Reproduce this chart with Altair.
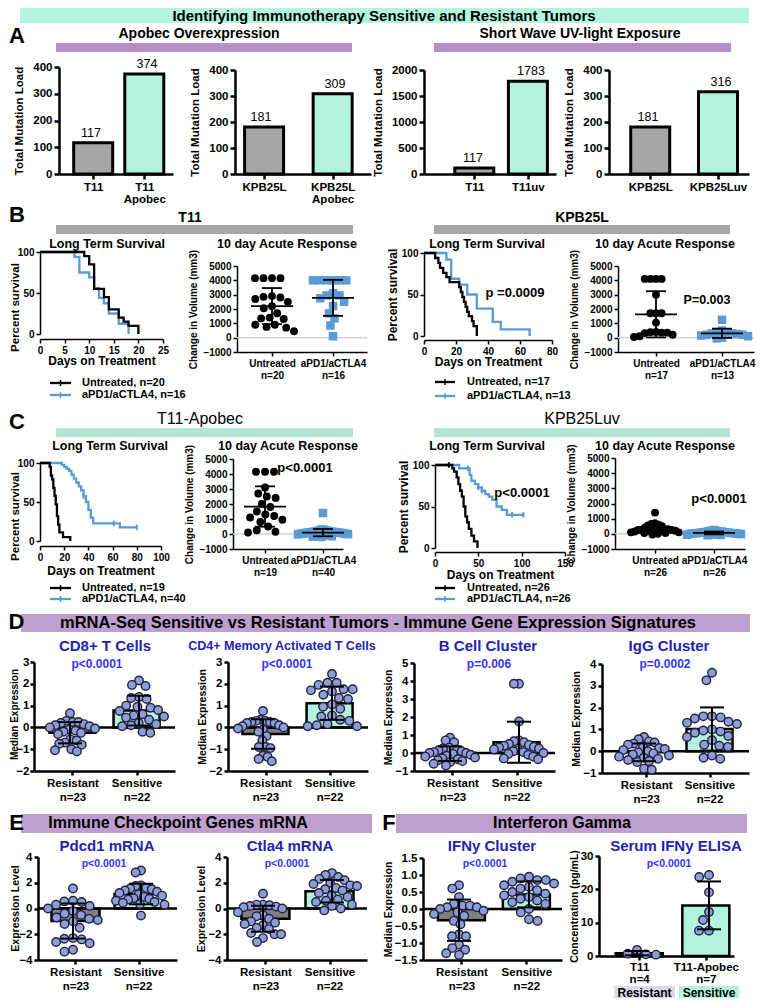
import math
import altair as alt
import pandas as pd

W, H = 748, 990
FONT = "Liberation Sans"
BLUE = "#5b9bd5"
MINT = "#b3f2dd"
MINT_TOP = "#b3f5df"
MINT_C = "#b2e5d2"
GRAY_A = "#a6a6a6"
GRAY_D = "#808080"
PURPLE_A = "#b590c8"
PURPLE_D = "#be9fcf"
NAVY = "#2323ad"
PBLUE = "#3535f2"
DOT_FILL = "#8d9dd8"
DOT_STROKE = "#23233f"

# ---------------- data ----------------
# A: total mutation load
a1_labels = ["T11", "T11|Apobec"];       a1_vals = [117, 374]
a2_labels = ["KPB25L", "KPB25L|Apobec"]; a2_vals = [181, 309]
a3_labels = ["T11", "T11uv"];            a3_vals = [117, 1783]
a4_labels = ["KPB25L", "KPB25Luv"];      a4_vals = [181, 316]

# Kaplan-Meier curves (days, percent survival)
t11_untr_d = [0, 9, 10, 11, 13, 14, 16, 17, 18, 20]
t11_untr_s = [100, 95, 85, 55, 45, 30, 20, 15, 10, 0]
t11_trt_d = [0, 7, 8, 10, 11, 12, 13, 14, 16, 18]
t11_trt_s = [100, 94, 75, 69, 56, 44, 37.5, 25, 12.5, 0]

kpb_untr_d = [0, 7, 9, 10, 12, 14, 16, 22, 23, 24, 25, 26, 27, 28, 30, 31, 33]
kpb_untr_s = [100, 94, 88, 82, 76, 71, 65, 59, 53, 47, 41, 35, 29, 24, 18, 12, 0]
kpb_trt_d = [0, 14, 17, 22, 27, 33, 43, 48, 66]
kpb_trt_s = [100, 92, 69, 62, 50, 33, 17, 8, 0]

t11a_untr_d = [0, 8, 9, 10, 11, 12, 13, 14, 15, 16, 19, 25]
t11a_untr_s = [100, 95, 84, 79, 68, 58, 47, 32, 21, 11, 5, 0]
t11a_trt_d = [0, 18, 20, 22, 24, 26, 28, 30, 32, 34, 36, 38, 40, 42, 44, 66, 80]
t11a_trt_s = [100, 97.5, 95, 92.5, 90, 85, 80, 75, 70, 65, 57.5, 50, 40, 30, 22.5, 17.5, 17.5]
t11a_cens_d = [36, 61, 80]
t11a_cens_s = [57.5, 22.5, 17.5]

kpbuv_untr_d = [0, 20, 22, 25, 27, 29, 31, 33, 35, 37, 39, 42, 45, 49]
kpbuv_untr_s = [100, 96, 92, 85, 77, 69, 62, 50, 38, 31, 23, 15, 8, 0]
kpbuv_trt_d = [0, 28, 40, 42, 46, 50, 54, 58, 62, 66, 71, 77, 83, 102]
kpbuv_trt_s = [100, 96, 88, 81, 77, 73, 69, 65, 62, 58, 50, 46, 40, 40]
kpbuv_cens_untr_d = [16]
kpbuv_cens_untr_s = [100]
kpbuv_cens_trt_d = [38, 50, 54, 89, 102]
kpbuv_cens_trt_s = [96, 73, 69, 40, 40]

# 10 day acute response (change in volume, mm3)
t11_untr_vol = [4150, 4150, 4150, 4150, 2900, 2850, 2800, 2700, 2500, 2200, 2050, 1700, 1400, 1350, 1300, 900, 900, 750, 700, 450]
t11_trt_vol = [4000, 4000, 4000, 4000, 4000, 4000, 3100, 2950, 2950, 2750, 2500, 2200, 1700, 1350, 850, 100]
kpb_untr_vol = [4100, 4100, 4100, 4100, 3000, 1700, 1700, 1700, 1050, 400, 380, 350, 350, 320, 200, 100, 50]
kpb_trt_vol = [1250, 500, 400, 350, 300, 300, 250, 200, 200, 150, 100, 0, -50]
t11a_untr_vol = [4150, 4150, 4150, 3100, 2700, 2500, 2400, 2000, 1800, 1500, 1300, 1200, 1100, 950, 800, 500, 250, 150, 100]
t11a_trt_vol = [1400, 300, 280, 250, 230, 200, 200, 180, 170, 150, 150, 140, 130, 120, 110, 100, 100, 90, 80, 70,
                60, 50, 50, 40, 30, 20, 10, 0, 0, -10, -20, -30, -50, -60, -80, -100, -120, -150, -180, -200]
kpbuv_untr_vol = [1400, 700, 650, 600, 550, 500, 450, 400, 350, 300, 300, 300, 250, 250, 250, 200, 200, 200, 150, 150,
                  100, 100, 50, 50, 0, -50]
kpbuv_trt_vol = [250, 200, 200, 180, 150, 150, 120, 100, 100, 80, 80, 60, 50, 50, 40, 30, 20, 10, 0, 0,
                 -20, -40, -50, -60, -80, -100]

# D/E/F expression
cd8_res = [0.65, 0.3, 0.25, 0.25, 0.2, 0.15, 0.1, 0.05, 0.0, -0.05, -0.1, -0.15, -0.2, -0.25, -0.3, -0.55, -0.6, -0.7, -0.75, -0.8, -1.0, -1.05, -1.1]
cd8_sen = [2.15, 1.95, 1.9, 1.4, 1.35, 1.3, 1.0, 0.95, 0.9, 0.8, 0.75, 0.6, 0.55, 0.5, 0.45, 0.35, 0.2, 0.15, 0.1, 0.05, -0.2, -0.25]
cd4_res = [0.75, 0.35, 0.3, 0.3, 0.25, 0.25, 0.2, 0.2, 0.1, 0.05, 0.0, -0.05, -0.1, -0.2, -0.4, -0.6, -0.9, -0.9, -0.95, -1.3, -1.35, -1.45, -1.55]
cd4_sen = [2.45, 2.05, 2.05, 1.95, 1.75, 1.75, 1.7, 1.65, 1.5, 1.35, 1.3, 1.05, 0.95, 0.85, 0.55, 0.5, 0.35, 0.3, 0.15, 0.1, 0.05, 0.05]
bcell_res = [0.85, 0.7, 0.6, 0.3, 0.25, 0.2, 0.15, 0.1, 0.05, 0.0, 0.0, -0.05, -0.1, -0.15, -0.2, -0.25, -0.3, -0.35, -0.4, -0.45, -0.5, -0.6, -0.7]
bcell_sen = [3.85, 3.85, 1.75, 0.7, 0.65, 0.6, 0.5, 0.45, 0.4, 0.35, 0.3, 0.25, 0.2, 0.15, 0.1, 0.05, 0.0, -0.05, -0.1, -0.2, -0.3, -0.35]
igg_res = [0.65, 0.55, 0.45, 0.4, 0.35, 0.3, 0.2, 0.15, 0.1, 0.05, 0.0, -0.05, -0.1, -0.15, -0.2, -0.25, -0.3, -0.35, -0.4, -0.45, -0.5, -0.8, -0.85]
igg_sen = [3.6, 3.25, 1.6, 1.6, 1.55, 1.5, 1.35, 1.3, 1.25, 1.0, 0.95, 0.9, 0.85, 0.7, 0.65, 0.5, 0.3, 0.25, 0.2, -0.2, -0.3, -0.35]
pdcd1_res = [1.55, 0.6, 0.55, 0.5, 0.3, 0.2, 0.0, -0.2, -0.4, -0.5, -0.7, -0.8, -0.9, -1.0, -1.2, -1.5, -2.3, -2.35, -2.4, -2.6, -2.7, -3.2, -3.35]
pdcd1_sen = [2.95, 2.8, 1.8, 1.75, 1.6, 1.55, 1.5, 1.4, 1.3, 1.2, 1.1, 1.0, 0.9, 0.8, 0.75, 0.7, 0.6, 0.5, 0.45, 0.35, 0.3, -0.55]
ctla4_res = [1.15, 0.3, 0.3, 0.25, 0.2, 0.15, 0.1, 0.0, -0.3, -0.5, -0.6, -0.8, -1.0, -1.1, -1.2, -1.3, -1.5, -1.6, -1.9, -2.0, -2.0, -2.3, -2.6]
ctla4_sen = [2.75, 2.6, 2.45, 2.3, 2.2, 2.0, 1.9, 1.8, 1.75, 1.6, 1.5, 1.4, 1.2, 1.0, 0.9, 0.7, 0.6, 0.5, 0.3, 0.2, 0.0, -0.15]
ifng_res = [0.7, 0.6, 0.35, 0.15, 0.1, 0.1, 0.05, 0.05, 0.0, -0.05, -0.1, -0.15, -0.2, -0.35, -0.45, -0.75, -0.8, -0.8, -1.05, -1.15, -1.2, -1.3, -1.35]
ifng_sen = [0.95, 0.9, 0.85, 0.85, 0.8, 0.75, 0.7, 0.65, 0.6, 0.55, 0.5, 0.45, 0.4, 0.35, 0.3, 0.25, 0.2, 0.15, 0.0, -0.1, -0.3, -0.35]
elisa_t11 = [0.4, 0.5, 0.7, 1.8]
elisa_apo = [24.3, 23.7, 19.1, 13.2, 10.8, 7.6, 7.6]

rs_labels = ["Resistant|n=23", "Sensitive|n=22"]

# ---------------- layout helpers ----------------
def px(x):
    return x - 8


def py(y):
    return y - 8


def lin(dom, r0, r1):
    return alt.Scale(domain=[float(dom[0]), float(dom[1])], range=[float(r0), float(r1)], nice=False, zero=False)


def cat_scale(p):
    u = p["c1"] - p["c0"]
    return lin([(p["x0"] - p["c0"]) / u, (p["x1"] - p["c0"]) / u], px(p["x0"]), px(p["x1"])), u


def y_scale(p):
    return lin(p["yd"], py(p["yb"]), py(p["yt"]))


def ypix(p, v):
    y0, y1 = p["yd"]
    return p["yb"] - (v - y0) / (y1 - y0) * (p["yb"] - p["yt"])


def swarm(ys, d, maxw):
    idx = sorted(range(len(ys)), key=lambda i: ys[i])
    placed = []
    out = [0.0] * len(ys)
    for i in idx:
        y = ys[i]
        cands = [0.0]
        for qx, qy in placed:
            dy = abs(qy - y)
            if dy < d:
                dx = math.sqrt(d * d - dy * dy)
                cands += [qx + dx, qx - dx]
        cands.sort(key=lambda c: (round(abs(c), 6), c))
        for c in cands:
            if all((c - qx) ** 2 + (y - qy) ** 2 >= d * d - 1e-6 for qx, qy in placed):
                out[i] = c
                placed.append((c, y))
                break
    m = max(abs(o) for o in out) if out else 0
    if m > maxw:
        out = [o * maxw / m for o in out]
    return out


BASE_AX = dict(grid=False, domainColor="black", tickColor="black", labelColor="black", titleColor="black",
               labelFont=FONT, titleFont=FONT, labelFontWeight="bold", titleFontWeight="bold",
               labelOverlap=False, labelFlush=False, labelBound=False)
STY_A = dict(domainWidth=2.5, tickWidth=2.5, tickSize=5, labelFontSize=11.5, titleFontSize=11.5, labelPadding=2)
STY_KM = dict(domainWidth=1.5, tickWidth=1.5, tickSize=4, labelFontSize=10, titleFontSize=12, labelPadding=2)
STY_SC = dict(domainWidth=1.5, tickWidth=1.5, tickSize=4, labelFontSize=10, titleFontSize=10, labelPadding=2)
STY_D = dict(domainWidth=2.5, tickWidth=2.5, tickSize=4, labelFontSize=11.5, titleFontSize=10.5, labelPadding=2)


def left_axis(p, values, title, fmt, style, tpad, tpos=None, extra=None):
    kw = dict(BASE_AX)
    kw.update(style)
    if extra:
        kw.update(extra)
    if tpos is not None:
        kw["titleX"] = tpos[0] - p["x0"]
        kw["titleY"] = py(tpos[1])
        kw["titleBaseline"] = "middle"
        kw["titleAlign"] = "center"
    return alt.Axis(orient="left", offset=-px(p["x0"]), position=0, values=values, title=title,
                    format=fmt, titlePadding=tpad, **kw)


def bottom_axis(axis_y, values, style, title=None, labels=None, tpad=2, lh=13, fmt="d", extra=None):
    kw = dict(BASE_AX)
    kw.update(style)
    if extra:
        kw.update(extra)
    if labels is not None:
        arr = "[" + ",".join("'" + l + "'" for l in labels) + "]"
        kw["labelExpr"] = f"split({arr}[datum.value], '|')"
        kw["labelLineHeight"] = lh
    return alt.Axis(orient="bottom", offset=py(axis_y) - H, position=0, values=values, title=title,
                    titlePadding=tpad, format=fmt, **kw)


layers = []

# ---------------- decorations: banners ----------------
rects = pd.DataFrame([
    (20, 8, 749, 23, MINT_TOP),
    (56, 43, 352, 52, PURPLE_A), (434, 43, 731, 52, PURPLE_A),
    (56, 225, 353, 234, GRAY_A), (434, 225, 730, 234, GRAY_A),
    (56, 428, 353, 437, MINT_C), (434, 428, 730, 437, MINT_C),
    (21, 614, 750, 632, PURPLE_D), (21, 814, 372, 833, PURPLE_D), (396, 814, 747, 833, PURPLE_D),
    (614, 986, 675, 998, "#dcd9ea"), (679, 986, 739, 998, MINT),
], columns=["x", "y", "x2", "y2", "c"])
for col in ["x", "x2", "y", "y2"]:
    rects[col] = rects[col] - 8
layers.append(alt.Chart(rects).mark_rect().encode(
    x=alt.X("x:Q", scale=None, axis=None), x2="x2",
    y=alt.Y("y:Q", scale=None, axis=None), y2="y2",
    fill=alt.Fill("c:N", scale=None)))


# ---------------- A: bar panels ----------------
def bar_panel(p, labels, vals, yvals, ytitle):
    xs, u = cat_scale(p)
    ys = y_scale(p)
    df = pd.DataFrame({"g": [0, 1], "v": vals, "z": [0, 0], "col": [GRAY_A, MINT]})
    bars = alt.Chart(df).mark_bar(size=39, stroke="black", strokeWidth=3).encode(
        x=alt.X("g:Q", scale=xs, axis=bottom_axis(p["yb"], [0, 1], STY_A, labels=labels, lh=12)),
        y=alt.Y("v:Q", scale=ys, axis=left_axis(p, yvals, ytitle, "d", STY_A, 8)),
        y2="z", fill=alt.Fill("col:N", scale=None))
    txt = alt.Chart(df).mark_text(dy=-10, font=FONT, fontSize=12.5, color="black").encode(
        x=alt.X("g:Q", scale=xs, axis=None), y=alt.Y("v:Q", scale=ys, axis=None),
        text=alt.Text("v:Q", format="d"))
    return [bars, txt]


A1 = dict(x0=59, x1=173, c0=91, c1=147, yd=[0, 400], yt=67, yb=174)
A2 = dict(x0=235, x1=371, c0=261, c1=335, yd=[0, 400], yt=70, yb=174)
A3 = dict(x0=424, x1=556, c0=473, c1=531, yd=[0, 2000], yt=70, yb=174)
A4 = dict(x0=609, x1=749, c0=648, c1=721, yd=[0, 400], yt=70, yb=174)
layers += bar_panel(A1, a1_labels, a1_vals, [0, 100, 200, 300, 400], "Total Mutation Load")
layers += bar_panel(A2, a2_labels, a2_vals, [0, 100, 200, 300, 400], "Total Mutation Load")
layers += bar_panel(A3, a3_labels, a3_vals, [0, 500, 1000, 1500, 2000], "Total Mutation Load")
layers += bar_panel(A4, a4_labels, a4_vals, [0, 100, 200, 300, 400], "Total Mutation Load")


# ---------------- KM panels ----------------
def km_panel(p, curves, censors, xtpad, ytpad, tpos=None, tsize=12):
    xs = lin(p["xd"], px(p["x0"]), px(p["x1"]))
    ys = lin([0, 100], py(p["yb"]), py(p["yt"]))
    rows = []
    for g in [1, 0]:
        t, s = curves[g]
        for a, b in zip(t, s):
            rows.append(dict(g=g, d=a, s=b, col=BLUE if g else "black"))
    df = pd.DataFrame(rows)
    line = alt.Chart(df).mark_line(interpolate="step-after", strokeWidth=2.3).encode(
        x=alt.X("d:Q", scale=xs, axis=bottom_axis(p["axy"], p["xt"], STY_KM, title="Days on Treatment", tpad=xtpad)),
        y=alt.Y("s:Q", scale=ys, axis=left_axis(p, [0, 50, 100], "Percent survival", "d", STY_KM, ytpad,
                                                tpos=tpos, extra=dict(titleFontSize=tsize))),
        color=alt.Color("col:N", scale=None), detail="g:N")
    out = [line]
    crow = []
    for g, (t, s) in enumerate(censors):
        for a, b in zip(t, s):
            crow.append(dict(d=a, s=b, col=BLUE if g else "black"))
    if crow:
        cdf = pd.DataFrame(crow)
        out.append(alt.Chart(cdf).mark_point(shape="M0,-1L0,1", size=30, strokeWidth=2, filled=False, opacity=1).encode(
            x=alt.X("d:Q", scale=xs, axis=None), y=alt.Y("s:Q", scale=ys, axis=None),
            color=alt.Color("col:N", scale=None)))
    return out


KM_B1 = dict(x0=40, x1=163, xd=[0, 25], xt=[0, 5, 10, 15, 20, 25], yt=252, yb=334, axy=339)
KM_B2 = dict(x0=424, x1=552, xd=[0, 80], xt=[0, 20, 40, 60, 80], yt=253, yb=336, axy=340)
KM_C1 = dict(x0=40, x1=161, xd=[0, 100], xt=[0, 20, 40, 60, 80, 100], yt=463, yb=541, axy=546)
KM_C2 = dict(x0=435, x1=565, xd=[0, 150], xt=[0, 50, 100, 150], yt=465, yb=548, axy=552)
layers += km_panel(KM_B1, [(t11_untr_d, t11_untr_s), (t11_trt_d, t11_trt_s)], [([], []), ([], [])], 0, -1,
                   tpos=(15, 307), tsize=11.5)
layers += km_panel(KM_B2, [(kpb_untr_d, kpb_untr_s), (kpb_trt_d, kpb_trt_s)], [([], []), ([], [])], 0, 2)
layers += km_panel(KM_C1, [(t11a_untr_d, t11a_untr_s), (t11a_trt_d, t11a_trt_s)], [([], []), (t11a_cens_d, t11a_cens_s)], 3, -1,
                   tpos=(15, 516), tsize=11.5)
layers += km_panel(KM_C2, [(kpbuv_untr_d, kpbuv_untr_s), (kpbuv_trt_d, kpbuv_trt_s)],
                   [(kpbuv_cens_untr_d, kpbuv_cens_untr_s), (kpbuv_cens_trt_d, kpbuv_cens_trt_s)], 1, 2)


# ---------------- scatter panels ----------------
def scatter_panel(p, groups, labels, dists, maxws):
    xs, u = cat_scale(p)
    ys = y_scale(p)
    rows = []
    for g, vals in enumerate(groups):
        offs = swarm([ypix(p, v) for v in vals], dists[g], maxws[g])
        for v, o in zip(vals, offs):
            rows.append(dict(g=g, v=v, xp=g + o / u, sh="circle" if g == 0 else "square",
                             col="black" if g == 0 else BLUE, sz=62 if g == 0 else 72))
    df = pd.DataFrame(rows)

    def X(f):
        return alt.X(f, type="quantitative", scale=xs, axis=None)

    def Y(f):
        return alt.Y(f, type="quantitative", scale=ys, axis=None)

    zl = pd.DataFrame({"a": [(p["x0"] - p["c0"]) / u], "b": [(p["x1"] - p["c0"]) / u], "z": [0]})
    zero = alt.Chart(zl).mark_rule(color="#d4d4d4", strokeWidth=1.5).encode(
        x=alt.X("a:Q", scale=xs, axis=bottom_axis(p["yb"], [0, 1], STY_SC, labels=labels, lh=12)),
        x2="b",
        y=alt.Y("z:Q", scale=ys, axis=left_axis(p, [-1000, 0, 1000, 2000, 3000, 4000, 5000],
                                                "Change in Volume (mm3)", "d", STY_SC, 4)))
    dots = alt.Chart(df).mark_point(filled=True, opacity=1).encode(
        x=X("xp"), y=Y("v"), shape=alt.Shape("sh:N", scale=None),
        color=alt.Color("col:N", scale=None), size=alt.Size("sz:Q", scale=None))
    agg = alt.Chart(df).transform_aggregate(m="mean(v)", s="stdev(v)", groupby=["g"]).transform_calculate(
        lo="datum.m - datum.s", hi="datum.m + datum.s",
        ml=f"datum.g - {21 / u}", mr=f"datum.g + {21 / u}",
        cl=f"datum.g - {10 / u}", cr=f"datum.g + {10 / u}")
    mean = agg.mark_rule(color="black", strokeWidth=1.8).encode(x=X("ml"), x2="mr", y=Y("m"))
    vline = agg.mark_rule(color="black", strokeWidth=1.8).encode(x=X("g"), y=Y("lo"), y2="hi")
    caps = agg.transform_fold(["lo", "hi"], as_=["k", "yy"]).mark_rule(color="black", strokeWidth=1.8).encode(
        x=X("cl"), x2="cr", y=Y("yy"))
    return [zero, dots, mean, vline, caps]


SC_B1 = dict(x0=237, x1=367, c0=272, c1=333, yd=[-1000, 5000], yt=266, yb=352)
SC_B2 = dict(x0=618, x1=754, c0=656, c1=722, yd=[-1000, 5000], yt=266, yb=352)
SC_C1 = dict(x0=233, x1=343, c0=265, c1=323, yd=[-1000, 5000], yt=459, yb=549)
SC_C2 = dict(x0=615, x1=745, c0=655, c1=714, yd=[-1000, 5000], yt=458, yb=549)
layers += scatter_panel(SC_B1, [t11_untr_vol, t11_trt_vol], ["Untreated|n=20", "aPD1/aCTLA4|n=16"], [9, 9], [22, 20])
layers += scatter_panel(SC_B2, [kpb_untr_vol, kpb_trt_vol], ["Untreated|n=17", "aPD1/aCTLA4|n=13"], [8, 6], [22, 26])
layers += scatter_panel(SC_C1, [t11a_untr_vol, t11a_trt_vol], ["Untreated|n=19", "aPD1/aCTLA4|n=40"], [9, 4], [22, 25])
layers += scatter_panel(SC_C2, [kpbuv_untr_vol, kpbuv_trt_vol], ["Untreated|n=26", "aPD1/aCTLA4|n=26"], [4, 4], [24, 27])


# ---------------- dot + bar panels ----------------
def dotbar_panel(p, groups, labels, yvals, fmt, ytitle, bw=46, dist=10, cap=12, zero_line=True,
                 ytpad=1, lh=14, xextra=None, maxw=25, tpos=None, yextra=None):
    xs, u = cat_scale(p)
    ys = y_scale(p)
    rows = []
    for g, vals in enumerate(groups):
        offs = swarm([ypix(p, v) for v in vals], dist, maxw)
        for v, o in zip(vals, offs):
            rows.append(dict(g=g, v=v, xp=g + o / u))
    df = pd.DataFrame(rows)

    def X(f):
        return alt.X(f, type="quantitative", scale=xs, axis=None)

    def Y(f):
        return alt.Y(f, type="quantitative", scale=ys, axis=None)

    agg = alt.Chart(df).transform_aggregate(m="mean(v)", s="stdev(v)", groupby=["g"]).transform_calculate(
        z="0", lo="datum.m - datum.s", hi="datum.m + datum.s",
        col=f"datum.g == 0 ? '{GRAY_D}' : '{MINT}'",
        cl=f"datum.g - {cap / u}", cr=f"datum.g + {cap / u}")
    bars = agg.mark_bar(size=bw, stroke="black", strokeWidth=2.5).encode(
        x=alt.X("g:Q", scale=xs, axis=bottom_axis(p["yb"], [0, 1], STY_D, labels=labels, lh=lh, extra=xextra)),
        y=alt.Y("m:Q", scale=ys, axis=left_axis(p, yvals, ytitle, fmt, STY_D, ytpad, tpos=tpos, extra=yextra)),
        y2="z", fill=alt.Fill("col:N", scale=None))
    out = [bars]
    if zero_line:
        zl = pd.DataFrame({"a": [(p["x0"] - p["c0"]) / u], "b": [(p["x1"] - p["c0"]) / u], "z": [0]})
        out.append(alt.Chart(zl).mark_rule(color="black", strokeWidth=2.5).encode(
            x=X("a"), x2="b", y=Y("z")))
    dots = alt.Chart(df).mark_circle(size=72, fill=DOT_FILL, stroke=DOT_STROKE, strokeWidth=1.4, opacity=1).encode(
        x=X("xp"), y=Y("v"))
    vline = agg.mark_rule(color="black", strokeWidth=2).encode(x=X("g"), y=Y("lo"), y2="hi")
    caps = agg.transform_fold(["lo", "hi"], as_=["k", "yy"]).mark_rule(color="black", strokeWidth=2).encode(
        x=X("cl"), x2="cr", y=Y("yy"))
    out += [dots, vline, caps]
    return out


D1 = dict(x0=34, x1=175, c0=70, c1=139, yd=[-2, 3], yt=662, yb=771)
D2 = dict(x0=228, x1=368, c0=263, c1=332, yd=[-2, 3], yt=662, yb=771)
D3 = dict(x0=414, x1=555, c0=450, c1=519, yd=[-1, 5], yt=663, yb=771)
D4 = dict(x0=602, x1=749, c0=644, c1=712, yd=[-1, 4], yt=664, yb=773)
E1 = dict(x0=38, x1=177, c0=73, c1=141, yd=[-4, 4], yt=857, yb=960)
E2 = dict(x0=227, x1=367, c0=263, c1=332, yd=[-4, 4], yt=857, yb=960)
F1 = dict(x0=423, x1=562, c0=459, c1=529, yd=[-1.5, 1.5], yt=858, yb=960)
F2 = dict(x0=599, x1=734, c0=637, c1=709, yd=[0, 30], yt=856, yb=956)

layers += dotbar_panel(D1, [cd8_res, cd8_sen], rs_labels, [-2, -1, 0, 1, 2, 3], "d", "Median Expression",
                       tpos=(14.5, 714), yextra=dict(labelPadding=1, titleFontSize=10))
layers += dotbar_panel(D2, [cd4_res, cd4_sen], rs_labels, [-2, -1, 0, 1, 2, 3], "d", "Median Expression")
layers += dotbar_panel(D3, [bcell_res, bcell_sen], rs_labels, [-1, 0, 1, 2, 3, 4, 5], "d", "Median Expression")
layers += dotbar_panel(D4, [igg_res, igg_sen], rs_labels, [-1, 0, 1, 2, 3, 4], "d", "Median Expression")
layers += dotbar_panel(E1, [pdcd1_res, pdcd1_sen], rs_labels, [-4, -2, 0, 2, 4], "d", "Expression Level", bw=48,
                       tpos=(15.5, 908), yextra=dict(titleFontSize=10.5))
layers += dotbar_panel(E2, [ctla4_res, ctla4_sen], rs_labels, [-4, -2, 0, 2, 4], "d", "Expression Level", bw=48)
layers += dotbar_panel(F1, [ifng_res, ifng_sen], rs_labels, [-1.5, -1.0, -0.5, 0.0, 0.5, 1.0, 1.5], ".1f",
                       "Median Expression", bw=47)
layers += dotbar_panel(F2, [elisa_t11, elisa_apo], ["T11|n=4", "T11-Apobec|n=7"], [0, 10, 20, 30], "d",
                       "Concentration (pg/mL)", bw=47, zero_line=False, lh=12,
                       xextra=dict(labelPadding=1, labelFontSize=11.5))

# ---------------- legend samples for KM ----------------
leg_lines = pd.DataFrame([
    (50, 71, 383, "black"), (50, 71, 395, BLUE),
    (435, 455, 382, "black"), (435, 455, 396, BLUE),
    (50, 71, 588, "black"), (50, 71, 599, BLUE),
    (435, 455, 588, "black"), (435, 455, 599, BLUE),
], columns=["x", "x2", "y", "c"])
leg_lines["xm"] = (leg_lines["x"] + leg_lines["x2"]) / 2 - 8
leg_lines["ya"] = leg_lines["y"] - 8 - 3
leg_lines["yb"] = leg_lines["y"] - 8 + 3
for col in ["x", "x2", "y"]:
    leg_lines[col] = leg_lines[col] - 8
layers.append(alt.Chart(leg_lines).mark_rule(strokeWidth=2.3).encode(
    x=alt.X("x:Q", scale=None, axis=None), x2="x2", y=alt.Y("y:Q", scale=None, axis=None),
    color=alt.Color("c:N", scale=None)))
layers.append(alt.Chart(leg_lines).mark_rule(strokeWidth=1.5).encode(
    x=alt.X("xm:Q", scale=None, axis=None), y=alt.Y("ya:Q", scale=None, axis=None), y2="yb",
    color=alt.Color("c:N", scale=None)))

# ---------------- texts ----------------
bold_texts = [
    (384, 15.5, "Identifying Immunotherapy Sensitive and Resistant Tumors", 15, "black"),
    (17, 36, "A", 22, "black"), (17, 215, "B", 22, "black"), (17, 422, "C", 22, "black"),
    (16.5, 622, "D", 22, "black"), (16.5, 823, "E", 22, "black"), (389, 823, "F", 22, "black"),
    (199, 34, "Apobec Overexpression", 14, "black"), (580, 34, "Short Wave UV-light Exposure", 14, "black"),
    (190, 218, "T11", 14, "black"), (582, 218, "KPB25L", 14, "black"),
    (107, 244, "Long Term Survival", 12.5, "black"), (287, 244, "10 day Acute Response", 12.5, "black"),
    (487, 244, "Long Term Survival", 12.5, "black"), (665, 244, "10 day Acute Response", 12.5, "black"),
    (110, 446, "Long Term Survival", 12.5, "black"), (288, 446, "10 day Acute Response", 12.5, "black"),
    (487, 446, "Long Term Survival", 12.5, "black"), (665, 446, "10 day Acute Response", 12.5, "black"),
    (515, 293, "p =0.0009", 13, "black"), (707, 300, "P=0.003", 12.5, "black"),
    (305, 468, "p<0.0001", 13, "black"), (522, 493, "p<0.0001", 13, "black"), (719, 499, "p<0.0001", 13, "black"),
    (378, 623, "mRNA-Seq Sensitive vs Resistant Tumors - Immune Gene Expression Signatures", 16.5, "black"),
    (105, 646, "CD8+ T Cells", 15, NAVY), (282, 646, "CD4+ Memory Activated T Cells", 12.5, NAVY),
    (488, 646, "B Cell Cluster", 15, NAVY), (669, 646, "IgG Cluster", 15, NAVY),
    (97, 664, "p<0.0001", 12, PBLUE), (287, 664, "p<0.0001", 12, PBLUE),
    (489, 664, "p=0.006", 12, PBLUE), (665, 664, "p=0.0002", 12, PBLUE),
    (178, 823, "Immune Checkpoint Genes mRNA", 16, "black"), (562, 823, "Interferon Gamma", 16, "black"),
    (107, 846, "Pdcd1 mRNA", 15, NAVY), (290, 846, "Ctla4 mRNA", 15, NAVY),
    (492, 846, "IFNy Cluster", 15, NAVY), (676, 846, "Serum IFNy ELISA", 15, NAVY),
    (104, 864, "p<0.0001", 10.5, PBLUE), (287, 864, "p<0.0001", 10.5, PBLUE),
    (485, 864, "p<0.0001", 10.5, PBLUE), (669, 864, "p<0.0001", 10.5, PBLUE),
    (644.5, 992.5, "Resistant", 12, "black"), (709, 992.5, "Sensitive", 12, "black"),
]
normal_texts = [
    (200, 419, "T11-Apobec", 16, "black"), (582, 419, "KPB25Luv", 16, "black"),
]
left_texts = [
    (82, 383, "Untreated,  n=20", 11, "black"), (82, 395, "aPD1/aCTLA4, n=16", 11, "black"),
    (467, 382, "Untreated,  n=17", 11, "black"), (467, 396, "aPD1/aCTLA4, n=13", 11, "black"),
    (82, 588, "Untreated,  n=19", 11, "black"), (82, 599, "aPD1/aCTLA4, n=40", 11, "black"),
    (467, 588, "Untreated,  n=26", 11, "black"), (467, 599, "aPD1/aCTLA4, n=26", 11, "black"),
]


def text_layer(rows, weight, align):
    df = pd.DataFrame(rows, columns=["x", "y", "t", "s", "c"])
    df["x"] = df["x"] - 8
    df["y"] = df["y"] - 8
    return alt.Chart(df).mark_text(font=FONT, fontWeight=weight, align=align, baseline="middle").encode(
        x=alt.X("x:Q", scale=None, axis=None), y=alt.Y("y:Q", scale=None, axis=None),
        text="t:N", size=alt.Size("s:Q", scale=None), color=alt.Color("c:N", scale=None))


layers.append(text_layer(bold_texts, "bold", "center"))
layers.append(text_layer(normal_texts, "normal", "center"))
layers.append(text_layer(left_texts, "bold", "left"))

chart = alt.layer(*layers).properties(
    width=W, height=H, padding=0, background="white",
    autosize=alt.AutoSizeParams(type="none"),
).resolve_scale(x="independent", y="independent").resolve_axis(
    x="independent", y="independent"
).configure_view(strokeWidth=0)

chart.save("out.html", embed_options={"renderer": "svg", "actions": False})
